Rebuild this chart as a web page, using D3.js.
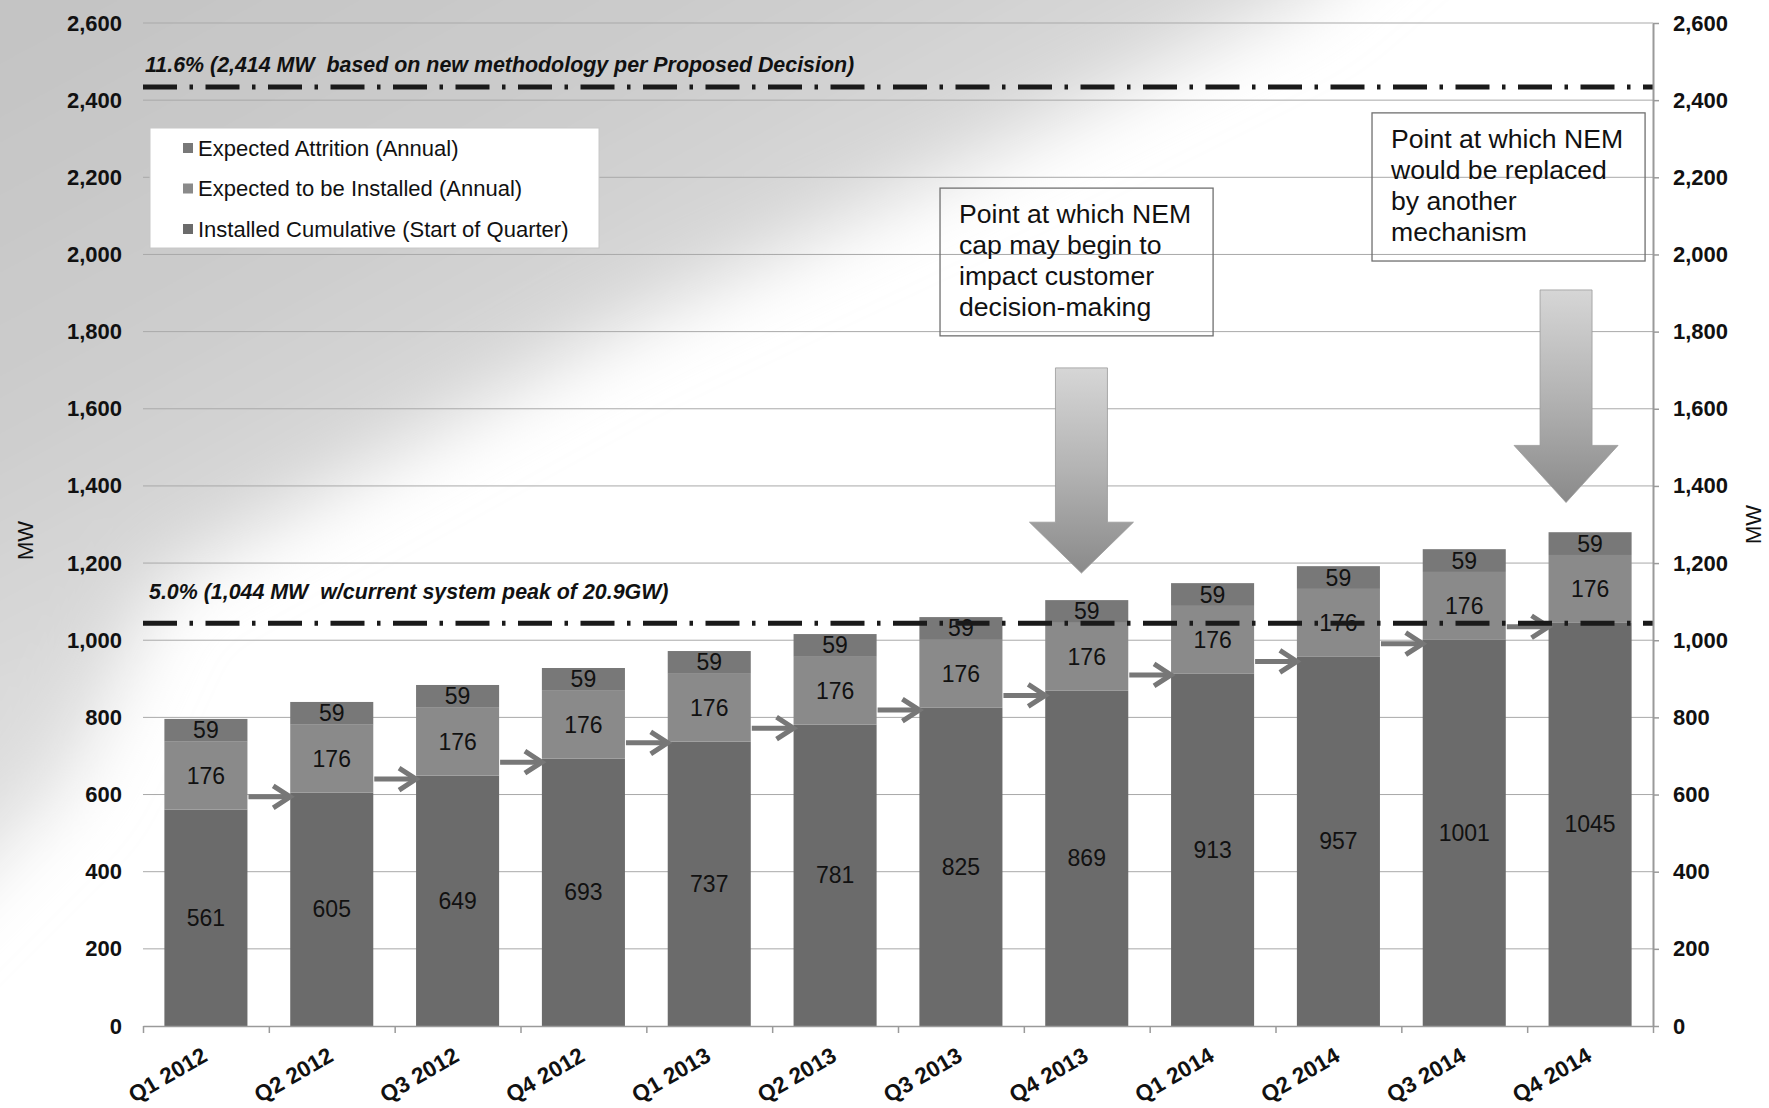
<!DOCTYPE html>
<html>
<head>
<meta charset="utf-8">
<script src="https://cdn.jsdelivr.net/npm/d3@7"></script>
<style>
  body { margin: 0; background: #fff; }
  text { font-family: "Liberation Sans", Arial, sans-serif; }
</style>
</head>
<body>
<svg id="chart" width="1769" height="1108"></svg>
<script>
// ---------------- data ----------------
const categories = ["Q1 2012","Q2 2012","Q3 2012","Q4 2012","Q1 2013","Q2 2013","Q3 2013","Q4 2013","Q1 2014","Q2 2014","Q3 2014","Q4 2014"];
const installedCumulative = [561,605,649,693,737,781,825,869,913,957,1001,1045];
const expectedInstalled   = [176,176,176,176,176,176,176,176,176,176,176,176];
const expectedAttrition   = [59,59,59,59,59,59,59,59,59,59,59,59];
const seriesNames = ["Expected Attrition (Annual)","Expected to be Installed (Annual)","Installed Cumulative (Start of Quarter)"];
const arrowLevels = [594,640,684,734,772,819,857,910,945,991,1035];
const yTicks = [0,200,400,600,800,1000,1200,1400,1600,1800,2000,2200,2400,2600];
const refLineValues = [2434, 1044];
const refLineLabels = ["11.6% (2,414 MW  based on new methodology per Proposed Decision)",
                       "5.0% (1,044 MW  w/current system peak of 20.9GW)"];
const refLabelValues = [2473, 1107];
const calloutTexts = [
  ["Point at which NEM","cap may begin to","impact customer","decision-making"],
  ["Point at which NEM","would be replaced","by another","mechanism"]
];
// callout boxes: [start index, end index] along categories, [top value, bottom value]
const calloutX = [[6.334, 8.504],[9.767, 11.937]];
const calloutY = [[2172, 1789],[2367, 1983]];
// big arrows: position along categories, top / head base / tip values
const bigArrowPos = [7.458, 11.309];
const bigArrowTop = [1706, 1908];
const bigArrowBase = [1306, 1505];
const bigArrowTip = [1174, 1357];

// ---------------- layout ----------------
const W = 1769, H = 1108;
const plotLeft = 143, plotRight = 1653, plotBottom = 1026, plotTop = 23;
const svg = d3.select("#chart");
const defs = svg.append("defs");

const FONT = '"Liberation Sans", Arial, sans-serif';

// background: white page with a soft grey sweep in the upper-left
svg.append("rect").attr("width",W).attr("height",H).attr("fill","#fff");
const bg = defs.append("linearGradient").attr("id","bg")
  .attr("gradientUnits","userSpaceOnUse")
  .attr("x1",0).attr("y1",0).attr("x2",330).attr("y2",610);
[[0,"#c3c3c3"],[0.55,"#cdcdcd"],[1,"#dfdfdf"]]
  .forEach(([o,c]) => bg.append("stop").attr("offset",o).attr("stop-color",c));
const blur = defs.append("filter").attr("id","soft")
  .attr("x","-30%").attr("y","-30%").attr("width","160%").attr("height","160%");
blur.append("feGaussianBlur").attr("stdDeviation",38);
svg.append("path")
  .attr("d","M-300,-300L1650,-300L1300,0L1000,150L620,330L160,585L70,780L-300,1150Z")
  .attr("fill","url(#bg)").attr("filter","url(#soft)");

// scales
const x = d3.scaleBand().domain(categories).range([plotLeft,plotRight]).paddingInner(0.34).paddingOuter(0.17);
const y = d3.scaleLinear().domain([0,2600]).range([plotBottom,plotTop]);
const catPos = d3.scaleLinear().domain([0,12]).range([plotLeft,plotRight]);

// gridlines
svg.append("g").selectAll("line").data(yTicks.filter(d => d > 0)).join("line")
  .attr("x1",plotLeft).attr("x2",plotRight)
  .attr("y1",d => y(d)).attr("y2",d => y(d))
  .attr("stroke","#a9a9a9").attr("stroke-width",1);

// stacked bars
const rows = categories.map((c,i) => ({cat:c, cum: installedCumulative[i], inst: expectedInstalled[i], attr: expectedAttrition[i]}));
const keys = ["cum","inst","attr"];
const colors = {cum:"#6b6b6b", inst:"#8a8a8a", attr:"#787878"};
const stacked = d3.stack().keys(keys)(rows);
const barG = svg.append("g");
stacked.forEach(layer => {
  barG.append("g").selectAll("rect").data(layer).join("rect")
    .attr("x", d => x(d.data.cat))
    .attr("width", x.bandwidth())
    .attr("y", d => y(d[1]))
    .attr("height", d => y(d[0]) - y(d[1]))
    .attr("fill", colors[layer.key]);
});
// segment labels
stacked.forEach(layer => {
  barG.append("g").selectAll("text").data(layer).join("text")
    .attr("x", d => x(d.data.cat) + x.bandwidth()/2)
    .attr("y", d => y((d[0]+d[1])/2))
    .attr("text-anchor","middle")
    .attr("dominant-baseline","central")
    .attr("font-size",23)
    .attr("fill","#111")
    .text(d => d.data[layer.key]);
});

// small arrows between bars
const arrG = svg.append("g").attr("stroke","#777").attr("fill","none");
arrowLevels.forEach((v,i) => {
  const x1 = x(categories[i]) + x.bandwidth();
  const x2 = x(categories[i+1]);
  const yy = y(v);
  arrG.append("line").attr("x1",x1+1).attr("x2",x2-3).attr("y1",yy).attr("y2",yy).attr("stroke-width",5);
  arrG.append("path").attr("d",`M${x2-17},${yy-11}L${x2},${yy}L${x2-17},${yy+11}`)
    .attr("stroke-width",5).attr("stroke-linejoin","miter");
});

// reference dash-dot lines
refLineValues.forEach((v,i) => {
  svg.append("line").attr("x1",plotLeft).attr("x2",plotRight).attr("y1",y(v)).attr("y2",y(v))
    .attr("stroke","#1a1a1a").attr("stroke-width",5)
    .attr("stroke-dasharray","34 12.5 3.5 12.5");
  svg.append("text").attr("x", i === 0 ? plotLeft + 2 : plotLeft + 6).attr("y", y(refLabelValues[i]))
    .attr("font-size",21.4).attr("font-weight","bold").attr("font-style","italic")
    .style("white-space","pre").attr("fill","#111")
    .text(refLineLabels[i]);
});

// axes
const axL = svg.append("g").attr("transform",`translate(${plotLeft},0)`)
  .call(d3.axisLeft(y).tickValues(yTicks).tickSize(0).tickPadding(21).tickFormat(d3.format(",")));
axL.select(".domain").remove();
axL.selectAll("text").attr("font-size",22).attr("font-weight","bold").attr("fill","#111").attr("font-family",FONT);

const axR = svg.append("g").attr("transform",`translate(${plotRight},0)`)
  .call(d3.axisRight(y).tickValues(yTicks).tickSize(6).tickSizeOuter(0).tickPadding(14).tickFormat(d3.format(",")));
axR.select(".domain").attr("stroke","#9a9a9a").attr("stroke-width",2);
axR.selectAll(".tick line").attr("stroke","#9a9a9a").attr("stroke-width",1.5);
axR.selectAll("text").attr("font-size",22).attr("font-weight","bold").attr("fill","#111").attr("font-family",FONT);

const axB = svg.append("g").attr("transform",`translate(0,${plotBottom})`)
  .call(d3.axisBottom(catPos).tickValues(d3.range(13)).tickSize(7).tickSizeOuter(0).tickFormat(""));
axB.select(".domain").attr("stroke","#9a9a9a").attr("stroke-width",1.5);
axB.selectAll(".tick line").attr("stroke","#9a9a9a").attr("stroke-width",1.5);

const axBL = svg.append("g").attr("transform",`translate(0,${plotBottom})`)
  .call(d3.axisBottom(x).tickSize(0).tickPadding(0));
axBL.select(".domain").remove();
axBL.selectAll("text")
  .attr("y",0).attr("dy",0)
  .attr("text-anchor","end")
  .attr("transform","translate(3,34) rotate(-30)")
  .attr("font-size",22.5).attr("font-weight","bold").attr("fill","#111").attr("font-family",FONT);

// axis titles
svg.append("text").attr("transform",`translate(25,${(plotTop+plotBottom)/2+16}) rotate(-90)`)
  .attr("text-anchor","middle").attr("dominant-baseline","central").attr("font-size",22).attr("fill","#111").text("MW");
svg.append("text").attr("transform",`translate(1753,${(plotTop+plotBottom)/2}) rotate(-90)`)
  .attr("text-anchor","middle").attr("dominant-baseline","central").attr("font-size",22).attr("fill","#111").text("MW");

// legend
const lg = svg.append("g");
lg.append("rect").attr("x",150).attr("y",128).attr("width",449).attr("height",120)
  .attr("fill","#fff").attr("stroke","#c8c8c8").attr("stroke-width",1);
const legendColors = [colors.attr, colors.inst, colors.cum];
seriesNames.forEach((n,i) => {
  const cy = 148 + i*40.5;
  lg.append("rect").attr("x",183).attr("y",cy-5).attr("width",10).attr("height",10).attr("fill",legendColors[i]);
  lg.append("text").attr("x",198).attr("y",cy).attr("dominant-baseline","central")
    .attr("font-size",22).attr("fill","#111").text(n);
});

// big arrows
const ag = defs.append("linearGradient").attr("id","bigArrow").attr("x1",0).attr("y1",0).attr("x2",0).attr("y2",1);
[[0,"#d6d6d6"],[0.5,"#b3b3b3"],[1,"#8a8a8a"]].forEach(([o,c]) => ag.append("stop").attr("offset",o).attr("stop-color",c));
bigArrowPos.forEach((p,i) => {
  const cx = catPos(p), sw = 26, hw = 52;
  const yt = y(bigArrowTop[i]), yb = y(bigArrowBase[i]), ytip = y(bigArrowTip[i]);
  svg.append("path")
    .attr("d",`M${cx-sw},${yt}L${cx+sw},${yt}L${cx+sw},${yb}L${cx+hw},${yb}L${cx},${ytip}L${cx-hw},${yb}L${cx-sw},${yb}Z`)
    .attr("fill","url(#bigArrow)").attr("stroke","#9a9a9a").attr("stroke-width",0.8);
});

// callouts
calloutTexts.forEach((lines,i) => {
  const x0 = catPos(calloutX[i][0]), x1 = catPos(calloutX[i][1]);
  const y0 = y(calloutY[i][0]), y1 = y(calloutY[i][1]);
  svg.append("rect").attr("x",x0).attr("y",y0).attr("width",x1-x0).attr("height",y1-y0)
    .attr("fill","none").attr("stroke","#707070").attr("stroke-width",1.3);
  const t = svg.append("text").attr("font-size",26.6).attr("fill","#111");
  lines.forEach((l,j) => {
    t.append("tspan").attr("x",x0+19).attr("y",y0+35+j*31).text(l);
  });
});
</script>
</body>
</html>
